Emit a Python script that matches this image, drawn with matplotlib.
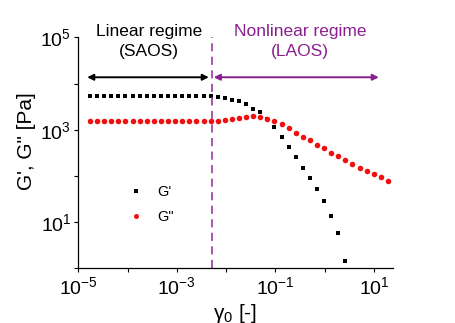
import numpy as np
import matplotlib.pyplot as plt
from matplotlib.ticker import FixedLocator, FuncFormatter, NullLocator

plt.rcParams['font.family'] = ['Liberation Sans', 'DejaVu Sans']
plt.rcParams['mathtext.fontset'] = 'custom'
plt.rcParams['mathtext.rm'] = 'Liberation Sans'
plt.rcParams['mathtext.it'] = 'Liberation Sans:italic'

# strain amplitude [-]
strain = [1.73e-5, 2.41e-5, 3.36e-5, 4.68e-5, 6.52e-5, 9.08e-5, 1.26e-4, 1.76e-4,
          2.45e-4, 3.42e-4, 4.76e-4, 6.64e-4, 9.25e-4, 1.29e-3, 1.79e-3, 2.50e-3,
          3.48e-3, 4.85e-3, 6.76e-3, 9.42e-3, 1.31e-2, 1.83e-2, 2.55e-2, 3.55e-2,
          4.94e-2, 6.89e-2, 9.59e-2, 0.134, 0.186, 0.259, 0.361, 0.504, 0.701,
          0.977, 1.36, 1.90, 2.64, 3.68, 5.13, 7.14, 9.95, 13.9, 19.3]

# storage modulus G' [Pa]
g_storage = [5500, 5500, 5500, 5500, 5500, 5500, 5500, 5500, 5500, 5500, 5500,
             5500, 5500, 5500, 5500, 5500, 5500, 5450, 5010, 4900, 4470, 4170,
             3550, 2880, 2450, 1740, 1120, 692, 417, 251, 148, 89, 51, 28, 13.8,
             5.75, 1.41]

# loss modulus G'' [Pa]
g_loss = [1580, 1580, 1580, 1580, 1580, 1580, 1580, 1580, 1580, 1580, 1580,
          1580, 1580, 1580, 1580, 1580, 1550, 1540, 1550, 1660, 1700, 1780,
          1900, 2000, 1900, 1740, 1580, 1320, 1070, 870, 692, 589, 468, 398,
          316, 263, 219, 182, 151, 126, 107, 93, 78]

gamma_crit = 5.1e-3
decades = [1e-5, 1e-4, 1e-3, 1e-2, 1e-1, 1e0, 1e1]
ydecades = [1e0, 1e1, 1e2, 1e3, 1e4, 1e5]

purple = '#8a1f8f'

fig = plt.figure(figsize=(4.56, 3.23), dpi=100)
ax = fig.add_axes([0.1717, 0.170, 0.6893, 0.714])

ax.plot(strain[:len(g_storage)], g_storage, 's', color='black', ms=3.4, mew=0, label="G'")
ax.plot(strain, g_loss, 'o', color='#f01010', ms=4.0, mew=0, label='G"')

ax.set_xscale('log')
ax.set_yscale('log')
ax.set_xlim(1e-5, 24)
ax.set_ylim(1, 1e5)

ax.axvline(gamma_crit, color='#a048a8', lw=1.3, dashes=(4.5, 3))

# regime arrows
ya = 10**4.137
ax.annotate('', xy=(10**-2.35, ya), xytext=(10**-4.82, ya),
            arrowprops=dict(arrowstyle='<|-|>', color='black', lw=1.4, mutation_scale=9,
                            shrinkA=0, shrinkB=0))
ax.annotate('', xy=(10**1.10, ya), xytext=(10**-2.25, ya),
            arrowprops=dict(arrowstyle='<|-|>', color=purple, lw=1.4, mutation_scale=9,
                            shrinkA=0, shrinkB=0))

ax.text(10**-3.566, 10**4.91, 'Linear regime\n(SAOS)', ha='center', va='center',
        fontsize=12.5, color='black', clip_on=False, linespacing=1.4)
ax.text(10**-0.50, 10**4.91, 'Nonlinear regime\n(LAOS)', ha='center', va='center',
        fontsize=12.5, color=purple, clip_on=False, linespacing=1.4)

for s in ['top', 'right']:
    ax.spines[s].set_visible(False)
for s in ['left', 'bottom']:
    ax.spines[s].set_linewidth(0.9)

ax.xaxis.set_major_locator(FixedLocator(decades))
ax.yaxis.set_major_locator(FixedLocator(ydecades))
ax.xaxis.set_minor_locator(NullLocator())
ax.yaxis.set_minor_locator(NullLocator())


def odd_label(v, pos):
    e = int(round(np.log10(v)))
    return '$10^{%d}$' % e if e % 2 else ''


ax.xaxis.set_major_formatter(FuncFormatter(odd_label))
ax.yaxis.set_major_formatter(FuncFormatter(odd_label))
ax.tick_params(direction='out', length=3, width=0.8, labelsize=14, pad=2)
ax.tick_params(axis='x', pad=3)

ax.set_xlabel('γ$_0$ [-]', fontsize=15)
ax.set_ylabel('G\', G" [Pa]', fontsize=15)
ax.yaxis.set_label_coords(-0.135, 0.55)
ax.xaxis.set_label_coords(0.5, -0.145)

ax.legend(loc='center left', bbox_to_anchor=(0.12, 0.275), frameon=False,
          fontsize=10.5, handlelength=1.0, handletextpad=0.9, labelspacing=0.75,
          markerscale=0.9)

fig.savefig('out.png', dpi=100)
